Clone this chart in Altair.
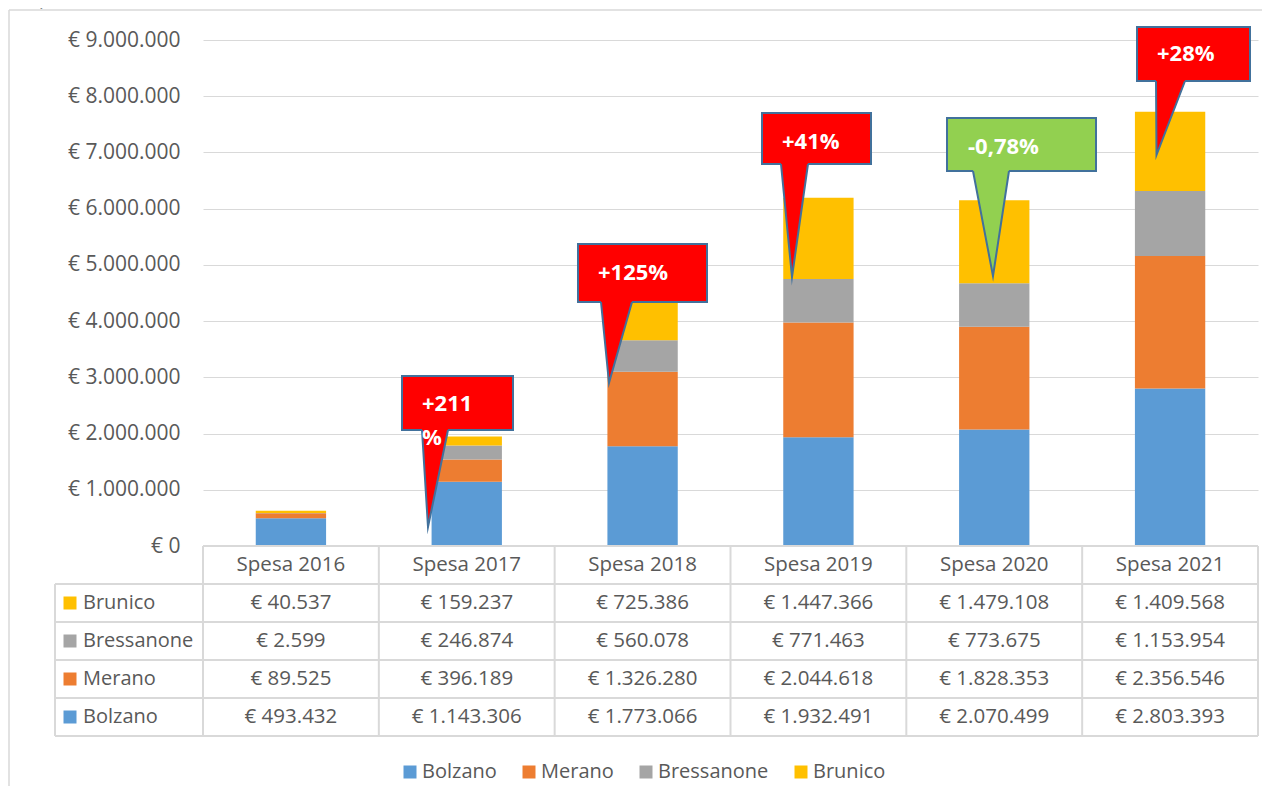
import altair as alt
import pandas as pd

# ---------------- data ----------------
years = ["Spesa 2016", "Spesa 2017", "Spesa 2018", "Spesa 2019", "Spesa 2020", "Spesa 2021"]
cities = ["Bolzano", "Merano", "Bressanone", "Brunico"]
bolzano = [493432, 1143306, 1773066, 1932491, 2070499, 2803393]
merano = [89525, 396189, 1326280, 2044618, 1828353, 2356546]
bressanone = [2599, 246874, 560078, 771463, 773675, 1153954]
brunico = [40537, 159237, 725386, 1447366, 1479108, 1409568]
# year-on-year change shown in the callouts (2017 ... 2021)
change_years = ["Spesa 2017", "Spesa 2018", "Spesa 2019", "Spesa 2020", "Spesa 2021"]
change_labels = ["+211\n%", "+125%", "+41%", "-0,78%", "+28%"]
change_up = [True, True, True, False, True]
table_rows = ["Brunico", "Bressanone", "Merano", "Bolzano"]
y_ticks = [0, 1000000, 2000000, 3000000, 4000000, 5000000, 6000000, 7000000, 8000000, 9000000]

# ---------------- styles ----------------
city_colors = ["#5B9BD5", "#ED7D31", "#A5A5A5", "#FFC000"]
TXT = "#595959"
GRID = "#D9D9D9"
FONT = "Open Sans"
UP_FILL, DOWN_FILL, CALLOUT_STROKE = "#FF0000", "#92D050", "#41719C"

# ---------------- layout (page pixels) ----------------
PLOT_L, PLOT_T, PLOT_W, PLOT_H = 203, 40, 1055, 506
Y_MAX = 9_000_000
ROW_PX = 38
BASE = PLOT_T + PLOT_H
N = len(years)


def px_x(X):
    return (X - PLOT_L) / PLOT_W * N


def px_y(Y):
    return (BASE - Y) / PLOT_H * Y_MAX


XS = alt.Scale(domain=[0, N], nice=False, zero=False)
YS = alt.Scale(domain=[0, Y_MAX], nice=False, zero=False)
Y_AXIS = alt.Axis(values=y_ticks,
                  labelExpr="'€ ' + replace(replace(format(datum.value, ','), ',', '.'), ',', '.')",
                  domain=False, ticks=False, labelFontSize=21, labelColor=TXT, labelFont=FONT,
                  labelPadding=23, gridColor=GRID, gridWidth=1, labelOverlap=False, title=None)


def X(field):
    return alt.X(field, scale=XS, axis=None, title=None)


def Y(field):
    return alt.Y(field, scale=YS, axis=Y_AXIS, title=None)


series = {"Bolzano": bolzano, "Merano": merano, "Bressanone": bressanone, "Brunico": brunico}


def eur(v):
    return "€ " + f"{v:,}".replace(",", ".")


# bars
bar_rows = []
for i, y in enumerate(years):
    for k, c in enumerate(cities):
        bar_rows.append({"year": y, "idx": i, "city": c, "order": k, "value": series[c][i]})
bar_df = pd.DataFrame(bar_rows)

color = alt.Color("city:N", scale=alt.Scale(domain=cities, range=city_colors), title=None,
                  legend=alt.Legend(orient="none", legendX=197, legendY=722, direction="horizontal",
                                    symbolType="square", symbolSize=169, symbolStrokeWidth=0,
                                    labelFontSize=20, labelColor=TXT, labelFont=FONT,
                                    labelOffset=2, columnPadding=22, title=None))

bars = alt.Chart(bar_df).transform_stack(
    stack="value", groupby=["year"], as_=["v0", "v1"], sort=[alt.SortField("order", "ascending")]
).transform_calculate(
    bx0="datum.idx + 0.3", bx1="datum.idx + 0.7"
).mark_bar().encode(
    x=X("bx0:Q"), x2="bx1:Q",
    y=Y("v0:Q"), y2="v1:Q",
    color=color,
)

# table grid lines
x_left = px_x(55)
lines = [{"x": 0, "x2": N, "y": px_y(BASE), "y2": px_y(BASE)}]
for r in range(1, 6):
    yy = px_y(BASE + r * ROW_PX)
    lines.append({"x": x_left, "x2": N, "y": yy, "y2": yy})
for k in range(N + 1):
    lines.append({"x": k, "x2": k, "y": px_y(BASE), "y2": px_y(BASE + 5 * ROW_PX)})
lines.append({"x": x_left, "x2": x_left, "y": px_y(BASE + ROW_PX), "y2": px_y(BASE + 5 * ROW_PX)})
# chart frame (top and left edges)
frame = [
    {"x": px_x(9), "x2": px_x(1272), "y": px_y(10), "y2": px_y(10)},
    {"x": px_x(9), "x2": px_x(9), "y": px_y(10), "y2": px_y(790)},
]
table_lines = alt.Chart(pd.DataFrame(lines)).mark_rule(color=GRID, strokeWidth=2).encode(
    x=X("x:Q"), x2="x2:Q", y=Y("y:Q"), y2="y2:Q")
frame_lines = alt.Chart(pd.DataFrame(frame)).mark_rule(color=GRID, strokeWidth=1.5).encode(
    x=X("x:Q"), x2="x2:Q", y=Y("y:Q"), y2="y2:Q")


def row_center(r):
    return px_y(BASE + (r + 0.5) * ROW_PX)


# table texts
cells = []
for i, y in enumerate(years):
    cells.append({"x": i + 0.5, "y": row_center(0), "t": y})
    for r, c in enumerate(table_rows, start=1):
        cells.append({"x": i + 0.5, "y": row_center(r), "t": eur(series[c][i])})
table_text = alt.Chart(pd.DataFrame(cells)).mark_text(
    fontSize=20.5, color=TXT, font=FONT, align="center", baseline="middle"
).encode(x=X("x:Q"), y=Y("y:Q"), text="t:N")

row_lab_df = pd.DataFrame([{"city": c, "y": row_center(r), "xt": px_x(83), "xs": px_x(70)}
                           for r, c in enumerate(table_rows, start=1)])
row_labels = alt.Chart(row_lab_df).mark_text(
    fontSize=20, color=TXT, font=FONT, align="left", baseline="middle"
).encode(x=X("xt:Q"), y=Y("y:Q"), text="city:N")
row_squares = alt.Chart(row_lab_df).mark_square(size=169, filled=True, opacity=1).encode(
    x=X("xs:Q"), y=Y("y:Q"), color="city:N")

# callouts (annotation geometry in page pixels)
callout_geom = [
    dict(box=(402, 513, 376, 430), base=(422, 448), tip=(428, 527), text=(422, 403)),
    dict(box=(578, 707, 244, 302), base=(601, 632), tip=(609, 383), text=(598, 272)),
    dict(box=(762, 871, 113, 164), base=(781, 808), tip=(792, 277), text=(782, 141)),
    dict(box=(947, 1096, 118, 171), base=(973, 1009), tip=(993, 276), text=(968, 146)),
    dict(box=(1137, 1250, 27, 81), base=(1156, 1185), tip=(1156.5, 155), text=(1157, 53)),
]
boxes, tails, outline, ctext = [], [], [], []
for j, (lab, up, g) in enumerate(zip(change_labels, change_up, callout_geom)):
    fill = UP_FILL if up else DOWN_FILL
    l, r, t, b = g["box"]
    boxes.append({"id": j, "x": px_x(l), "x2": px_x(r), "y": px_y(b), "y2": px_y(t), "fill": fill})
    xa, xb = g["base"]
    xt, yt = g["tip"]
    for (px, py) in [(xa, b + 1), (xt, yt), (xb, b + 1)]:
        tails.append({"id": j, "x": px_x(px), "y": px_y(py), "y2": px_y(b - 2), "fill": fill})
    for k, (px, py) in enumerate([(xa, b), (xt, yt), (xb, b)]):
        outline.append({"id": j, "k": k, "x": px_x(px), "y": px_y(py)})
    tx, ty = g["text"]
    ctext.append({"x": px_x(tx), "y": px_y(ty - 9.5), "t": lab})

box_layer = alt.Chart(pd.DataFrame(boxes)).mark_rect(stroke=CALLOUT_STROKE, strokeWidth=2).encode(
    x=X("x:Q"), x2="x2:Q", y=Y("y:Q"), y2="y2:Q",
    fill=alt.Fill("fill:N", scale=None))
tail_layer = alt.Chart(pd.DataFrame(tails)).mark_area(orient="vertical", opacity=1).encode(
    x=X("x:Q"), y=Y("y:Q"), y2="y2:Q",
    fill=alt.Fill("fill:N", scale=None), detail="id:N")
outline_layer = alt.Chart(pd.DataFrame(outline)).mark_line(
    color=CALLOUT_STROKE, strokeWidth=2, strokeJoin="miter", strokeMiterLimit=20).encode(
    x=X("x:Q"), y=Y("y:Q"), detail="id:N", order="k:Q")
text_layer = alt.Chart(pd.DataFrame(ctext)).mark_text(
    align="left", baseline="top", color="white", fontWeight="bold", fontSize=22, font=FONT,
    lineBreak="\n", lineHeight=34).encode(x=X("x:Q"), y=Y("y:Q"), text="t:N")

# cut-off title fragment at the very top (the reference shows it clipped)
top_text = alt.Chart(pd.DataFrame([{"x": px_x(-2), "y": px_y(5), "t": "view)"}])).mark_text(
    align="left", baseline="alphabetic", fontSize=20, color="#000000", font=FONT).encode(
    x=X("x:Q"), y=Y("y:Q"), text="t:N")

chart = alt.layer(
    bars, frame_lines, table_lines, table_text, row_labels, row_squares,
    box_layer, tail_layer, outline_layer, text_layer, top_text,
).properties(
    width=PLOT_W, height=PLOT_H,
    padding={"left": PLOT_L - 8, "top": PLOT_T - 8, "right": 4, "bottom": 240},
    autosize=alt.AutoSizeParams(type="none"),
).configure(font=FONT).configure_view(stroke=None)

chart.save("out.html", embed_options={"renderer": "svg", "actions": False})
